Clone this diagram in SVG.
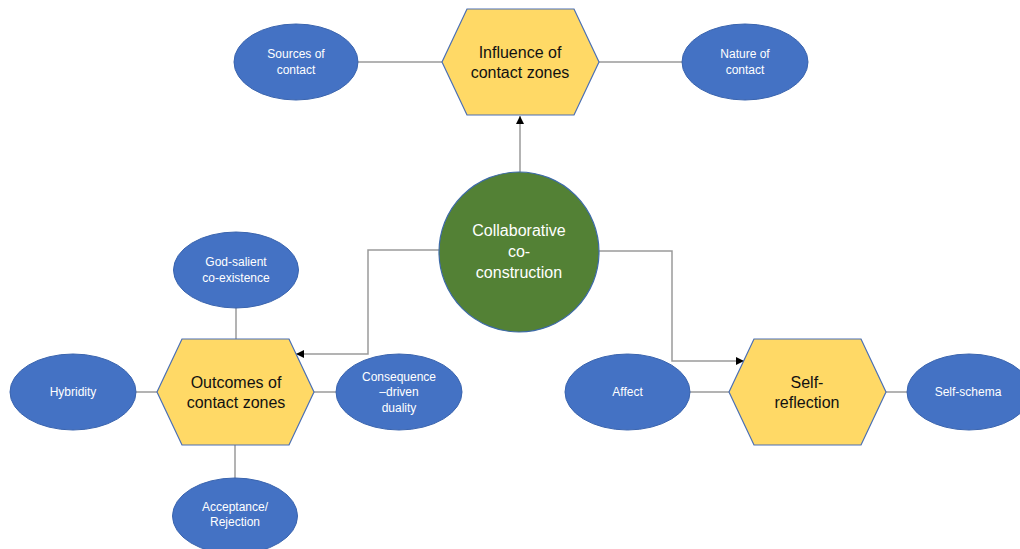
<svg xmlns="http://www.w3.org/2000/svg" width="1020" height="549" viewBox="0 0 1020 549">
<style>
.ell{fill:#4472C4;stroke:#3A64AE;stroke-width:1}
.hex{fill:#FFD966;stroke:#4A6FB5;stroke-width:1.2}
.circ{fill:#538135;stroke:#3D6AA8;stroke-width:1.2}
.et{font-family:"Liberation Sans",Arial,sans-serif;font-size:12px;fill:#ffffff;text-anchor:middle}
.ht{font-family:"Liberation Sans",Arial,sans-serif;font-size:16px;fill:#111111;text-anchor:middle}
.ct{font-family:"Liberation Sans",Arial,sans-serif;font-size:16px;fill:#ffffff;text-anchor:middle}
.ln{fill:none;stroke:#9A9A9A;stroke-width:1.5}
</style>
<defs>
<marker id="arr" viewBox="0 0 10 10" refX="10" refY="5" markerWidth="8" markerHeight="8" markerUnits="userSpaceOnUse" orient="auto">
<path d="M0,0 L10,5 L0,10 z" fill="#000000"/>
</marker>
</defs>
<rect width="1020" height="549" fill="#ffffff"/>
<g id="connectors">
<line class="ln" x1="358" y1="62" x2="442" y2="62"/>
<line class="ln" x1="599" y1="62" x2="682" y2="62"/>
<line class="ln" x1="520" y1="172" x2="520" y2="116" marker-end="url(#arr)"/>
<polyline class="ln" points="439,250 368,250 368,354 296,354" marker-end="url(#arr)"/>
<polyline class="ln" points="599,251 672,251 672,361 744,361" marker-end="url(#arr)"/>
<line class="ln" x1="236" y1="308" x2="236" y2="339"/>
<line class="ln" x1="235" y1="445" x2="235" y2="478"/>
<line class="ln" x1="136" y1="392" x2="157" y2="392"/>
<line class="ln" x1="314" y1="392" x2="336" y2="392"/>
<line class="ln" x1="690" y1="392" x2="729" y2="392"/>
<line class="ln" x1="886" y1="392" x2="907" y2="392"/>
</g>
<g id="influence">
<polygon class="hex" points="442,62 467,9 574,9 599,62 574,115 467,115"/>
<text class="ht" x="520" y="58">Influence of</text>
<text class="ht" x="520" y="78">contact zones</text>
</g>
<g id="sources">
<ellipse class="ell" cx="296" cy="62" rx="62" ry="38"/>
<text class="et" x="296" y="58">Sources of</text>
<text class="et" x="296" y="74">contact</text>
</g>
<g id="nature">
<ellipse class="ell" cx="745" cy="62" rx="63" ry="38"/>
<text class="et" x="745" y="58">Nature of</text>
<text class="et" x="745" y="74">contact</text>
</g>
<g id="collaborative">
<circle class="circ" cx="519" cy="252" r="80"/>
<text class="ct" x="519" y="236">Collaborative</text>
<text class="ct" x="519" y="257">co-</text>
<text class="ct" x="519" y="278">construction</text>
</g>
<g id="outcomes">
<polygon class="hex" points="157,392 182,339 289,339 314,392 289,445 182,445"/>
<text class="ht" x="236" y="388">Outcomes of</text>
<text class="ht" x="236" y="408">contact zones</text>
</g>
<g id="godsalient">
<ellipse class="ell" cx="236" cy="270" rx="62.5" ry="38"/>
<text class="et" x="236" y="266">God-salient</text>
<text class="et" x="236" y="282">co-existence</text>
</g>
<g id="hybridity">
<ellipse class="ell" cx="73" cy="392" rx="63" ry="38"/>
<text class="et" x="73" y="396">Hybridity</text>
</g>
<g id="consequence">
<ellipse class="ell" cx="399" cy="392" rx="63" ry="38"/>
<text class="et" x="399" y="381">Consequence</text>
<text class="et" x="399" y="396">–driven</text>
<text class="et" x="399" y="412">duality</text>
</g>
<g id="acceptance">
<ellipse class="ell" cx="235" cy="516" rx="62.5" ry="38"/>
<text class="et" x="235" y="511">Acceptance/</text>
<text class="et" x="235" y="526">Rejection</text>
</g>
<g id="selfreflection">
<polygon class="hex" points="729,392 754,339 861,339 886,392 861,445 754,445"/>
<text class="ht" x="807" y="388">Self-</text>
<text class="ht" x="807" y="408">reflection</text>
</g>
<g id="affect">
<ellipse class="ell" cx="627.5" cy="392" rx="62.5" ry="38"/>
<text class="et" x="627.5" y="396">Affect</text>
</g>
<g id="selfschema">
<ellipse class="ell" cx="969" cy="392" rx="62" ry="38"/>
<text class="et" x="968" y="396">Self-schema</text>
</g>
</svg>
